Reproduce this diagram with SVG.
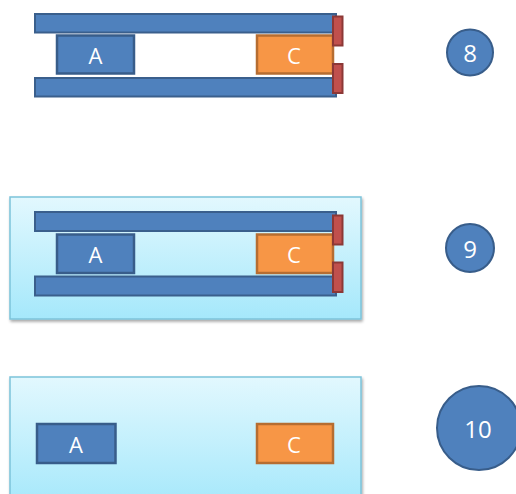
<svg xmlns="http://www.w3.org/2000/svg" width="516" height="494" viewBox="0 0 516 494">
<defs>
<linearGradient id="bg" x1="0" y1="0" x2="0" y2="1">
<stop offset="0" stop-color="#E2F8FE"/>
<stop offset="1" stop-color="#A5E8FB"/>
</linearGradient>
<filter id="sh" x="-5%" y="-5%" width="110%" height="115%">
<feGaussianBlur in="SourceAlpha" stdDeviation="1.5"/>
<feOffset dx="1" dy="2" result="o"/>
<feComponentTransfer><feFuncA type="linear" slope="0.35"/></feComponentTransfer>
<feMerge><feMergeNode/><feMergeNode in="SourceGraphic"/></feMerge>
</filter>
</defs>
<style>
.bar{fill:#4F81BD;stroke:#3A5F8C;stroke-width:2}
.a{fill:#4F81BD;stroke:#385D8A;stroke-width:2.5}
.c{fill:#F79646;stroke:#B66D31;stroke-width:2.5}
.cap{fill:#C0504D;stroke:#8C3836;stroke-width:2}
.panel{fill:url(#bg);stroke:#7CC3DA;stroke-width:1.5}
.circ{fill:#4F81BD;stroke:#385D8A;stroke-width:2}
text{font-family:"Open Sans","Liberation Sans",sans-serif;fill:#fff;text-anchor:middle;dominant-baseline:central}
.t{font-size:22px}
.n{font-size:24px}
</style>
<g id="panel8">
<rect class="bar" x="35" y="14" width="301" height="18.5"/>
<rect class="bar" x="35" y="78" width="301" height="18.5"/>
<g id="A8"><rect class="a" x="57" y="35.5" width="77" height="38"/><text class="t" x="95.5" y="55">A</text></g>
<g id="C8"><rect class="c" x="257" y="35.5" width="76" height="38"/><text class="t" x="294" y="55">C</text></g>
<rect class="cap" x="333" y="16.5" width="9.5" height="29"/>
<rect class="cap" x="333" y="64" width="9.5" height="29"/>
</g>
<g id="num8"><circle class="circ" cx="470" cy="52.5" r="23"/><text class="n" x="470" y="52">8</text></g>
<g id="panel9">
<rect class="panel" x="10" y="197" width="351" height="122" filter="url(#sh)"/>
<rect class="bar" x="35" y="212" width="301" height="19"/>
<rect class="bar" x="35" y="276.5" width="301" height="19"/>
<g id="A9"><rect class="a" x="57" y="234.5" width="77" height="38.5"/><text class="t" x="95.5" y="254">A</text></g>
<g id="C9"><rect class="c" x="257" y="234.5" width="76" height="38.5"/><text class="t" x="294" y="254">C</text></g>
<rect class="cap" x="333" y="215.5" width="9.5" height="29"/>
<rect class="cap" x="333" y="262.5" width="9.5" height="29.5"/>
</g>
<g id="num9"><circle class="circ" cx="470" cy="248" r="24"/><text class="n" x="470" y="248">9</text></g>
<g id="panel10">
<rect class="panel" x="10" y="377" width="351" height="130" filter="url(#sh)"/>
<g id="A10"><rect class="a" x="37" y="424" width="78.5" height="39"/><text class="t" x="76" y="443.5">A</text></g>
<g id="C10"><rect class="c" x="257" y="424" width="76" height="39"/><text class="t" x="294" y="443.5">C</text></g>
</g>
<g id="num10"><circle class="circ" cx="479" cy="428" r="42"/><text class="n" x="478" y="428">10</text></g>
<g id="connectors"/>
</svg>
